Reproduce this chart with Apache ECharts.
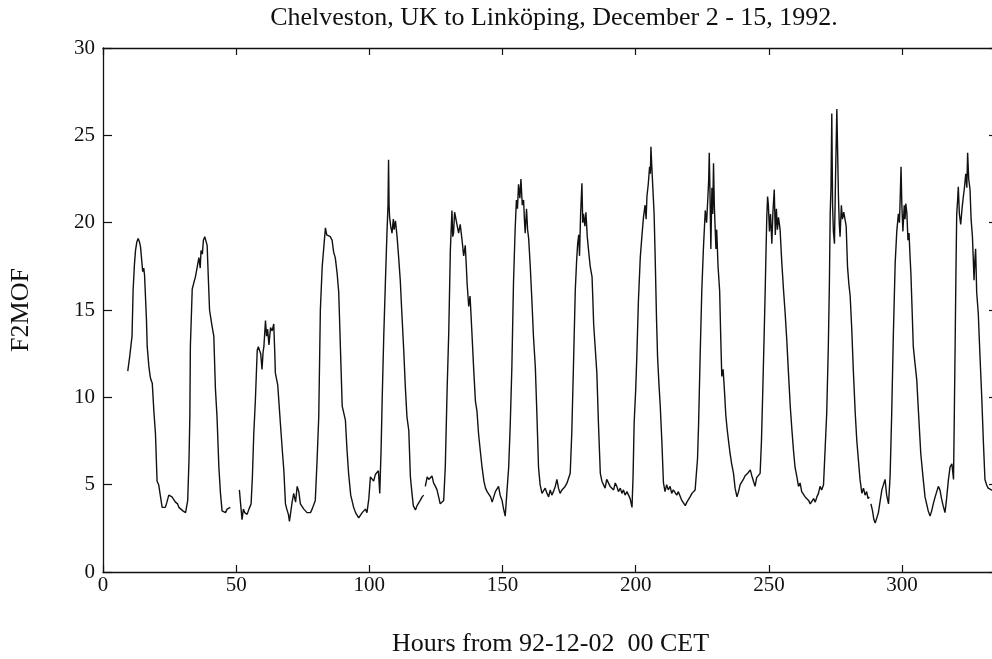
<!DOCTYPE html>
<html>
<head>
<meta charset="utf-8">
<script src="https://cdn.jsdelivr.net/npm/echarts@6/dist/echarts.min.js"></script>
<style>html,body{margin:0;padding:0;background:#fff;}#c{width:992px;height:659px;}</style>
</head>
<body>
<div id="c"></div>
<script>
// F2MOF readings [hour, MHz], gaps between segments
const seg1 = [[9.3,11.5],[10.0,12.3],[10.9,13.5],[11.3,16.1],[11.8,17.6],[12.2,18.4],[12.7,18.9],[13.2,19.1],[13.7,18.9],[14.1,18.6],[14.5,17.9],[14.9,17.2],[15.3,17.4],[15.6,17.0],[15.9,17.1],[16.3,14.5],[16.6,12.9],[17.2,11.8],[17.7,11.2],[18.0,11.0],[18.5,10.8],[19.1,9.2],[19.7,7.9],[20.3,5.2],[20.9,5.0],[21.2,4.9],[21.7,4.2],[22.2,3.7],[22.8,3.8],[23.4,3.7],[24.0,4.0],[24.7,4.4],[25.3,4.5],[25.9,4.3],[26.5,4.2],[27.2,4.0],[28.0,3.9],[28.5,3.7],[29.1,3.6],[30.0,3.5],[30.5,3.4],[31.0,3.4],[31.4,3.5],[31.8,4.1],[32.3,6.5],[32.6,8.9],[32.8,12.9],[33.2,14.8],[33.5,16.2],[34.0,16.5],[34.7,16.9],[35.3,17.4],[36.0,18.0],[36.5,17.4],[36.8,18.4],[37.3,18.2],[37.7,19.0],[38.2,19.2],[38.7,19.1],[39.1,18.7],[39.5,17.0],[40.0,15.0],[40.8,14.2],[41.6,13.5],[42.2,10.5],[42.8,8.9],[43.5,6.0],[44.1,4.5],[44.7,3.5],[45.3,3.4],[46.0,3.4],[46.6,3.6],[47.2,3.6],[47.8,3.7]];
const seg2 = [[51.2,4.7],[51.6,4.0],[52.2,3.0],[52.7,3.6],[53.2,3.4],[53.7,3.3],[54.1,3.3],[54.8,3.6],[55.6,3.9],[56.1,5.5],[56.6,7.9],[57.2,9.8],[57.9,12.7],[58.3,12.9],[58.8,13.0],[59.2,12.5],[59.7,11.6],[60.1,12.6],[60.4,12.9],[61.0,14.4],[61.4,13.5],[61.8,13.9],[62.3,13.0],[62.9,14.0],[63.5,13.8],[64.1,14.2],[64.5,12.5],[64.7,11.4],[65.2,11.5],[65.6,10.7],[66.0,10.8],[66.6,8.5],[67.3,7.0],[67.9,5.8],[68.5,3.9],[69.0,3.6],[69.6,3.3],[70.0,2.9],[70.4,3.0],[71.0,4.0],[71.6,4.5],[72.3,4.0],[72.9,4.9],[73.5,4.6],[74.1,3.9],[74.8,3.8],[75.4,3.6],[76.0,3.5],[76.6,3.4],[77.3,3.5],[77.9,3.4],[78.5,3.6],[79.1,3.7],[79.7,4.1],[80.4,6.5],[81.0,8.9],[81.6,15.0],[82.3,17.5],[82.9,18.6],[83.5,19.7],[84.0,19.3],[84.7,19.4],[85.3,19.2],[86.0,19.0],[86.6,18.3],[87.2,18.0],[87.9,17.1],[88.5,16.0],[89.2,12.5],[89.8,9.5],[90.4,9.1],[91.0,8.7],[91.6,7.0],[92.2,5.65],[93.0,4.4],[94.1,3.7],[94.8,3.4],[95.5,3.5],[96.0,3.1],[96.6,3.2],[97.3,3.4],[98.0,3.3],[98.5,3.6],[99.1,3.4],[99.8,4.2],[100.4,5.45],[101.0,5.5],[101.6,5.2],[102.3,5.6],[102.9,5.65],[103.4,5.8],[103.9,4.5],[104.4,7.0],[104.8,9.8],[105.4,13.5],[106.0,16.5],[106.6,19.4],[107.0,21.0],[107.2,23.6],[107.4,21.0],[107.6,20.3],[108.0,19.8],[108.5,19.4],[109.0,20.2],[109.3,19.6],[109.8,20.1],[110.4,19.2],[111.0,18.0],[111.6,16.7],[112.2,14.8],[112.9,12.7],[113.5,10.6],[114.1,8.9],[114.8,8.1],[115.4,5.45],[116.0,4.5],[116.5,3.8],[117.3,3.55],[117.9,3.8],[118.5,3.9],[119.1,4.1],[119.8,4.3],[120.4,4.4]];
const seg3 = [[121.0,4.9],[121.7,5.45],[122.3,5.3],[122.9,5.2],[123.5,5.5],[124.1,5.1],[124.8,4.9],[125.4,4.7],[126.0,4.3],[126.6,3.9],[127.2,4.0],[127.9,4.1],[128.5,6.0],[129.2,10.5],[129.8,13.7],[130.4,18.4],[131.0,20.7],[131.3,19.2],[131.6,19.4],[132.0,20.6],[132.6,20.5],[133.0,19.8],[133.5,19.4],[134.1,19.9],[134.8,19.0],[135.4,18.1],[136.0,18.7],[136.4,17.5],[136.7,16.5],[137.3,15.2],[137.8,15.8],[138.5,13.7],[139.2,11.5],[139.8,9.8],[140.4,9.2],[141.0,7.9],[141.6,7.0],[142.3,6.0],[143.0,5.2],[143.6,4.8],[144.2,4.6],[144.8,4.5],[145.5,4.3],[146.1,4.0],[146.7,4.1],[147.3,4.6],[147.9,4.7],[148.5,4.9],[149.1,4.4],[149.8,4.1],[150.4,3.6],[151.0,3.2],[151.6,4.5],[152.3,6.0],[152.9,8.5],[153.5,11.75],[154.1,16.5],[154.7,19.5],[155.2,21.3],[155.6,20.8],[156.0,22.2],[156.5,21.4],[156.9,22.5],[157.4,21.0],[157.9,21.3],[158.2,20.2],[158.5,19.4],[159.0,20.8],[159.4,19.6],[159.8,19.1],[160.4,17.5],[161.0,15.6],[161.6,13.5],[162.3,11.75],[162.9,9.0],[163.5,6.0],[164.1,5.0],[164.8,4.5],[165.4,4.4],[166.0,4.8],[166.7,4.5],[167.3,4.3],[167.9,4.7],[168.5,4.4],[169.1,4.6],[169.8,4.9],[170.4,5.3],[171.0,4.8],[171.6,4.5],[172.3,4.7],[172.9,4.6],[173.5,4.9],[174.2,5.1],[174.8,5.0],[175.4,5.65],[176.0,8.0],[176.7,12.3],[177.3,16.1],[177.8,17.8],[178.2,18.8],[178.6,19.3],[178.9,18.1],[179.3,20.5],[179.8,22.25],[180.1,20.0],[180.4,20.5],[180.9,19.8],[181.3,20.6],[181.8,19.2],[182.3,18.4],[182.9,17.5],[183.6,16.9],[183.9,15.6],[184.2,14.2],[184.8,12.8],[185.4,11.4],[186.0,8.5],[186.7,5.65],[187.3,5.2],[187.9,5.1],[188.5,4.8],[189.1,5.3],[189.8,5.3],[190.4,4.9],[191.1,5.0],[191.7,4.7],[192.3,5.1],[192.9,4.9],[193.5,4.6],[194.2,4.8],[194.8,4.5],[195.4,4.7],[196.0,4.4],[196.7,4.6],[197.3,4.7],[197.9,4.2],[198.6,3.7],[199.0,5.5],[199.4,8.5],[200.0,10.5],[200.4,12.3],[201.0,15.5],[201.7,18.0],[202.3,19.2],[202.9,20.3],[203.5,21.0],[203.9,20.2],[204.2,21.5],[204.7,22.2],[205.2,23.2],[205.5,22.8],[205.7,24.35],[206.1,23.0],[206.5,23.0],[206.9,20.5],[207.3,18.0],[207.8,14.5],[208.2,12.3],[208.7,10.8],[209.2,9.5],[209.8,7.5],[210.4,5.1],[211.0,4.6],[211.6,5.0],[212.2,4.7],[212.9,4.9],[213.5,4.5],[214.1,4.7],[214.7,4.8],[215.4,4.4],[216.0,4.6],[216.6,4.5],[217.3,4.1],[217.9,4.0],[218.6,3.8],[219.2,4.0],[219.8,4.1],[220.4,4.3],[221.1,4.5],[221.7,4.4],[222.3,4.7],[222.7,4.7],[223.2,6.5],[223.6,8.5],[224.2,12.5],[224.8,16.1],[225.4,18.5],[226.1,20.7],[226.6,20.0],[227.1,21.5],[227.4,22.5],[227.6,24.0],[227.9,21.5],[228.2,18.5],[228.6,22.0],[228.9,20.5],[229.2,23.4],[229.5,21.0],[229.8,20.9],[230.1,18.5],[230.4,19.6],[230.9,17.5],[231.5,16.1],[231.9,13.5],[232.3,11.2],[232.8,11.6],[233.3,10.4],[233.8,9.0],[234.3,8.2],[234.8,7.55],[235.4,6.8],[236.0,6.2],[236.7,5.65],[237.3,4.8],[238.0,4.3],[238.6,4.6],[239.2,5.0],[239.8,4.9],[240.4,5.3],[241.0,5.5],[241.7,5.4],[242.3,5.7],[243.0,5.85],[243.6,5.5],[244.2,5.2],[244.8,4.9],[245.4,5.4],[246.1,5.5],[246.7,5.65],[247.2,7.5],[247.7,10.4],[248.2,13.5],[248.6,16.1],[249.0,19.0],[249.2,20.3],[249.5,21.5],[249.8,21.0],[250.2,19.5],[250.6,20.5],[251.1,18.8],[251.5,20.6],[252.0,21.9],[252.4,19.3],[252.8,20.8],[253.2,19.6],[253.6,20.3],[254.2,19.6],[254.8,17.8],[255.5,16.1],[256.1,14.8],[256.7,13.3],[257.3,11.5],[258.0,9.5],[258.6,8.2],[259.2,7.0],[259.8,6.0],[260.5,5.45],[261.1,4.9],[261.7,5.1],[262.3,4.6],[263.0,4.7],[263.6,4.3],[264.2,4.4],[264.9,4.1],[265.5,3.9],[266.1,4.0],[266.8,4.2],[267.4,4.0],[268.0,4.3],[268.6,4.5],[269.2,4.9],[269.8,4.7],[270.5,5.0],[271.1,5.0],[271.7,9.1],[272.3,12.9],[272.7,16.5],[273.0,20.5],[273.3,22.0],[273.6,26.25],[273.9,21.0],[274.2,19.5],[274.6,18.8],[275.0,22.5],[275.5,26.5],[275.8,24.0],[276.1,21.5],[276.4,20.0],[276.7,19.2],[277.2,21.0],[277.6,20.2],[278.1,20.6],[278.6,20.5],[279.0,19.8],[279.5,17.5],[280.0,16.5],[280.5,15.8],[281.1,13.9],[281.7,11.5],[282.4,9.1],[283.0,7.5],[283.6,6.4],[284.2,5.3],[284.9,4.5],[285.5,4.8],[286.1,4.4],[286.7,4.6],[287.2,4.2],[287.7,4.3]];
const seg4 = [[288.3,3.9],[288.9,3.5],[289.4,3.0],[289.9,2.8],[290.5,3.1],[291.1,3.4],[291.8,4.1],[292.4,4.7],[293.0,5.0],[293.6,5.3],[294.2,4.4],[294.9,3.9],[295.5,5.5],[296.1,9.1],[296.7,13.5],[297.4,17.7],[298.0,19.5],[298.6,20.5],[299.0,20.0],[299.3,21.5],[299.6,23.2],[299.9,21.0],[300.3,19.5],[300.8,21.0],[301.1,20.2],[301.4,21.1],[301.8,20.5],[302.2,19.0],[302.6,19.4],[303.0,18.0],[303.3,17.1],[303.8,14.8],[304.2,12.9],[304.8,12.0],[305.5,11.0],[306.2,9.0],[307.0,6.8],[307.8,5.5],[308.6,4.3],[309.2,3.9],[309.8,3.5],[310.5,3.2],[311.1,3.5],[311.7,3.9],[312.4,4.3],[313.0,4.6],[313.6,4.9],[314.2,4.7],[314.8,4.2],[315.4,3.8],[316.1,3.4],[316.7,4.2],[317.4,5.3],[318.0,6.0],[318.7,6.2],[319.3,5.3],[319.6,9.0],[319.9,12.9],[320.2,17.0],[320.5,20.5],[320.8,21.2],[321.1,22.05],[321.5,20.5],[322.0,19.9],[322.5,20.8],[323.0,21.5],[323.4,22.0],[323.9,22.8],[324.3,22.0],[324.6,24.0],[325.0,22.5],[325.5,21.9],[325.9,20.2],[326.4,19.2],[326.7,18.0],[327.0,16.7],[327.3,17.8],[327.6,18.5],[328.0,16.0],[328.6,14.8],[329.2,12.5],[329.9,10.0],[330.5,7.5],[331.1,5.3],[331.7,5.0],[332.3,4.8],[332.9,4.9],[333.5,4.7],[334.2,4.8],[335.0,4.6]];
const gapHours = [49.5, 120.7, 288.0];
const xTicks = [0, 50, 100, 150, 200, 250, 300];
const yTicks = [0, 5, 10, 15, 20, 25, 30];

const segments = [seg1, seg2, seg3, seg4];
const data = [];
segments.forEach((s, i) => {
  s.forEach(p => data.push(p));
  if (i < gapHours.length) data.push([gapHours[i], '-']);
});

const FONT = '"Liberation Serif", "DejaVu Serif", serif';
const chart = echarts.init(document.getElementById('c'), null, {renderer: 'canvas'});
const axisLine = {show: true, onZero: false, lineStyle: {color: '#111', width: 1.3}};
chart.setOption({
  animation: false,
  backgroundColor: '#fff',
  title: {
    text: 'Chelveston, UK to Linköping, December 2 - 15, 1992.',
    left: 549, top: 0, textAlign: 'center',
    textStyle: {fontFamily: FONT, fontSize: 26, fontWeight: 'normal', color: '#111'}
  },
  grid: {left: 103, top: 48, width: 895, height: 524, containLabel: false, outerBoundsMode: 'none'},
  xAxis: [{
    type: 'value', min: 0, max: 336, interval: 50, position: 'bottom',
    name: 'Hours from 92-12-02  00 CET', nameLocation: 'middle', nameGap: 59,
    nameTextStyle: {fontFamily: FONT, fontSize: 26, color: '#111'},
    axisLine: axisLine,
    axisTick: {show: true, inside: true, length: 7, lineStyle: {color: '#111', width: 1.2}},
    axisLabel: {fontFamily: FONT, fontSize: 21, color: '#111', margin: 3,
      showMaxLabel: false,
      formatter: v => xTicks.indexOf(v) >= 0 ? String(v) : ''},
    splitLine: {show: false}
  }, {
    type: 'value', min: 0, max: 336, interval: 50, position: 'top',
    axisLine: axisLine,
    axisTick: {show: true, inside: true, length: 7, lineStyle: {color: '#111', width: 1.2}},
    axisLabel: {show: false}, splitLine: {show: false}
  }],
  yAxis: [{
    type: 'value', min: 0, max: 30, interval: 5, position: 'left',
    name: 'F2MOF', nameLocation: 'middle', nameGap: 69, nameRotate: 90,
    nameTextStyle: {fontFamily: FONT, fontSize: 26, color: '#111'},
    axisLine: axisLine,
    axisTick: {show: true, inside: true, length: 9, lineStyle: {color: '#111', width: 1.2}},
    axisLabel: {fontFamily: FONT, fontSize: 21, color: '#111', margin: 8,
      formatter: v => yTicks.indexOf(v) >= 0 ? String(v) : ''},
    splitLine: {show: false}
  }, {
    type: 'value', min: 0, max: 30, interval: 5, position: 'right',
    axisLine: axisLine,
    axisTick: {show: true, inside: true, length: 9, lineStyle: {color: '#111', width: 1.2}},
    axisLabel: {show: false}, splitLine: {show: false}
  }],
  series: [{
    type: 'line', xAxisIndex: 0, yAxisIndex: 0,
    data: data, showSymbol: false, symbol: 'none', connectNulls: false,
    lineStyle: {color: '#111', width: 1.4}, clip: true
  }]
});
</script>
</body>
</html>
